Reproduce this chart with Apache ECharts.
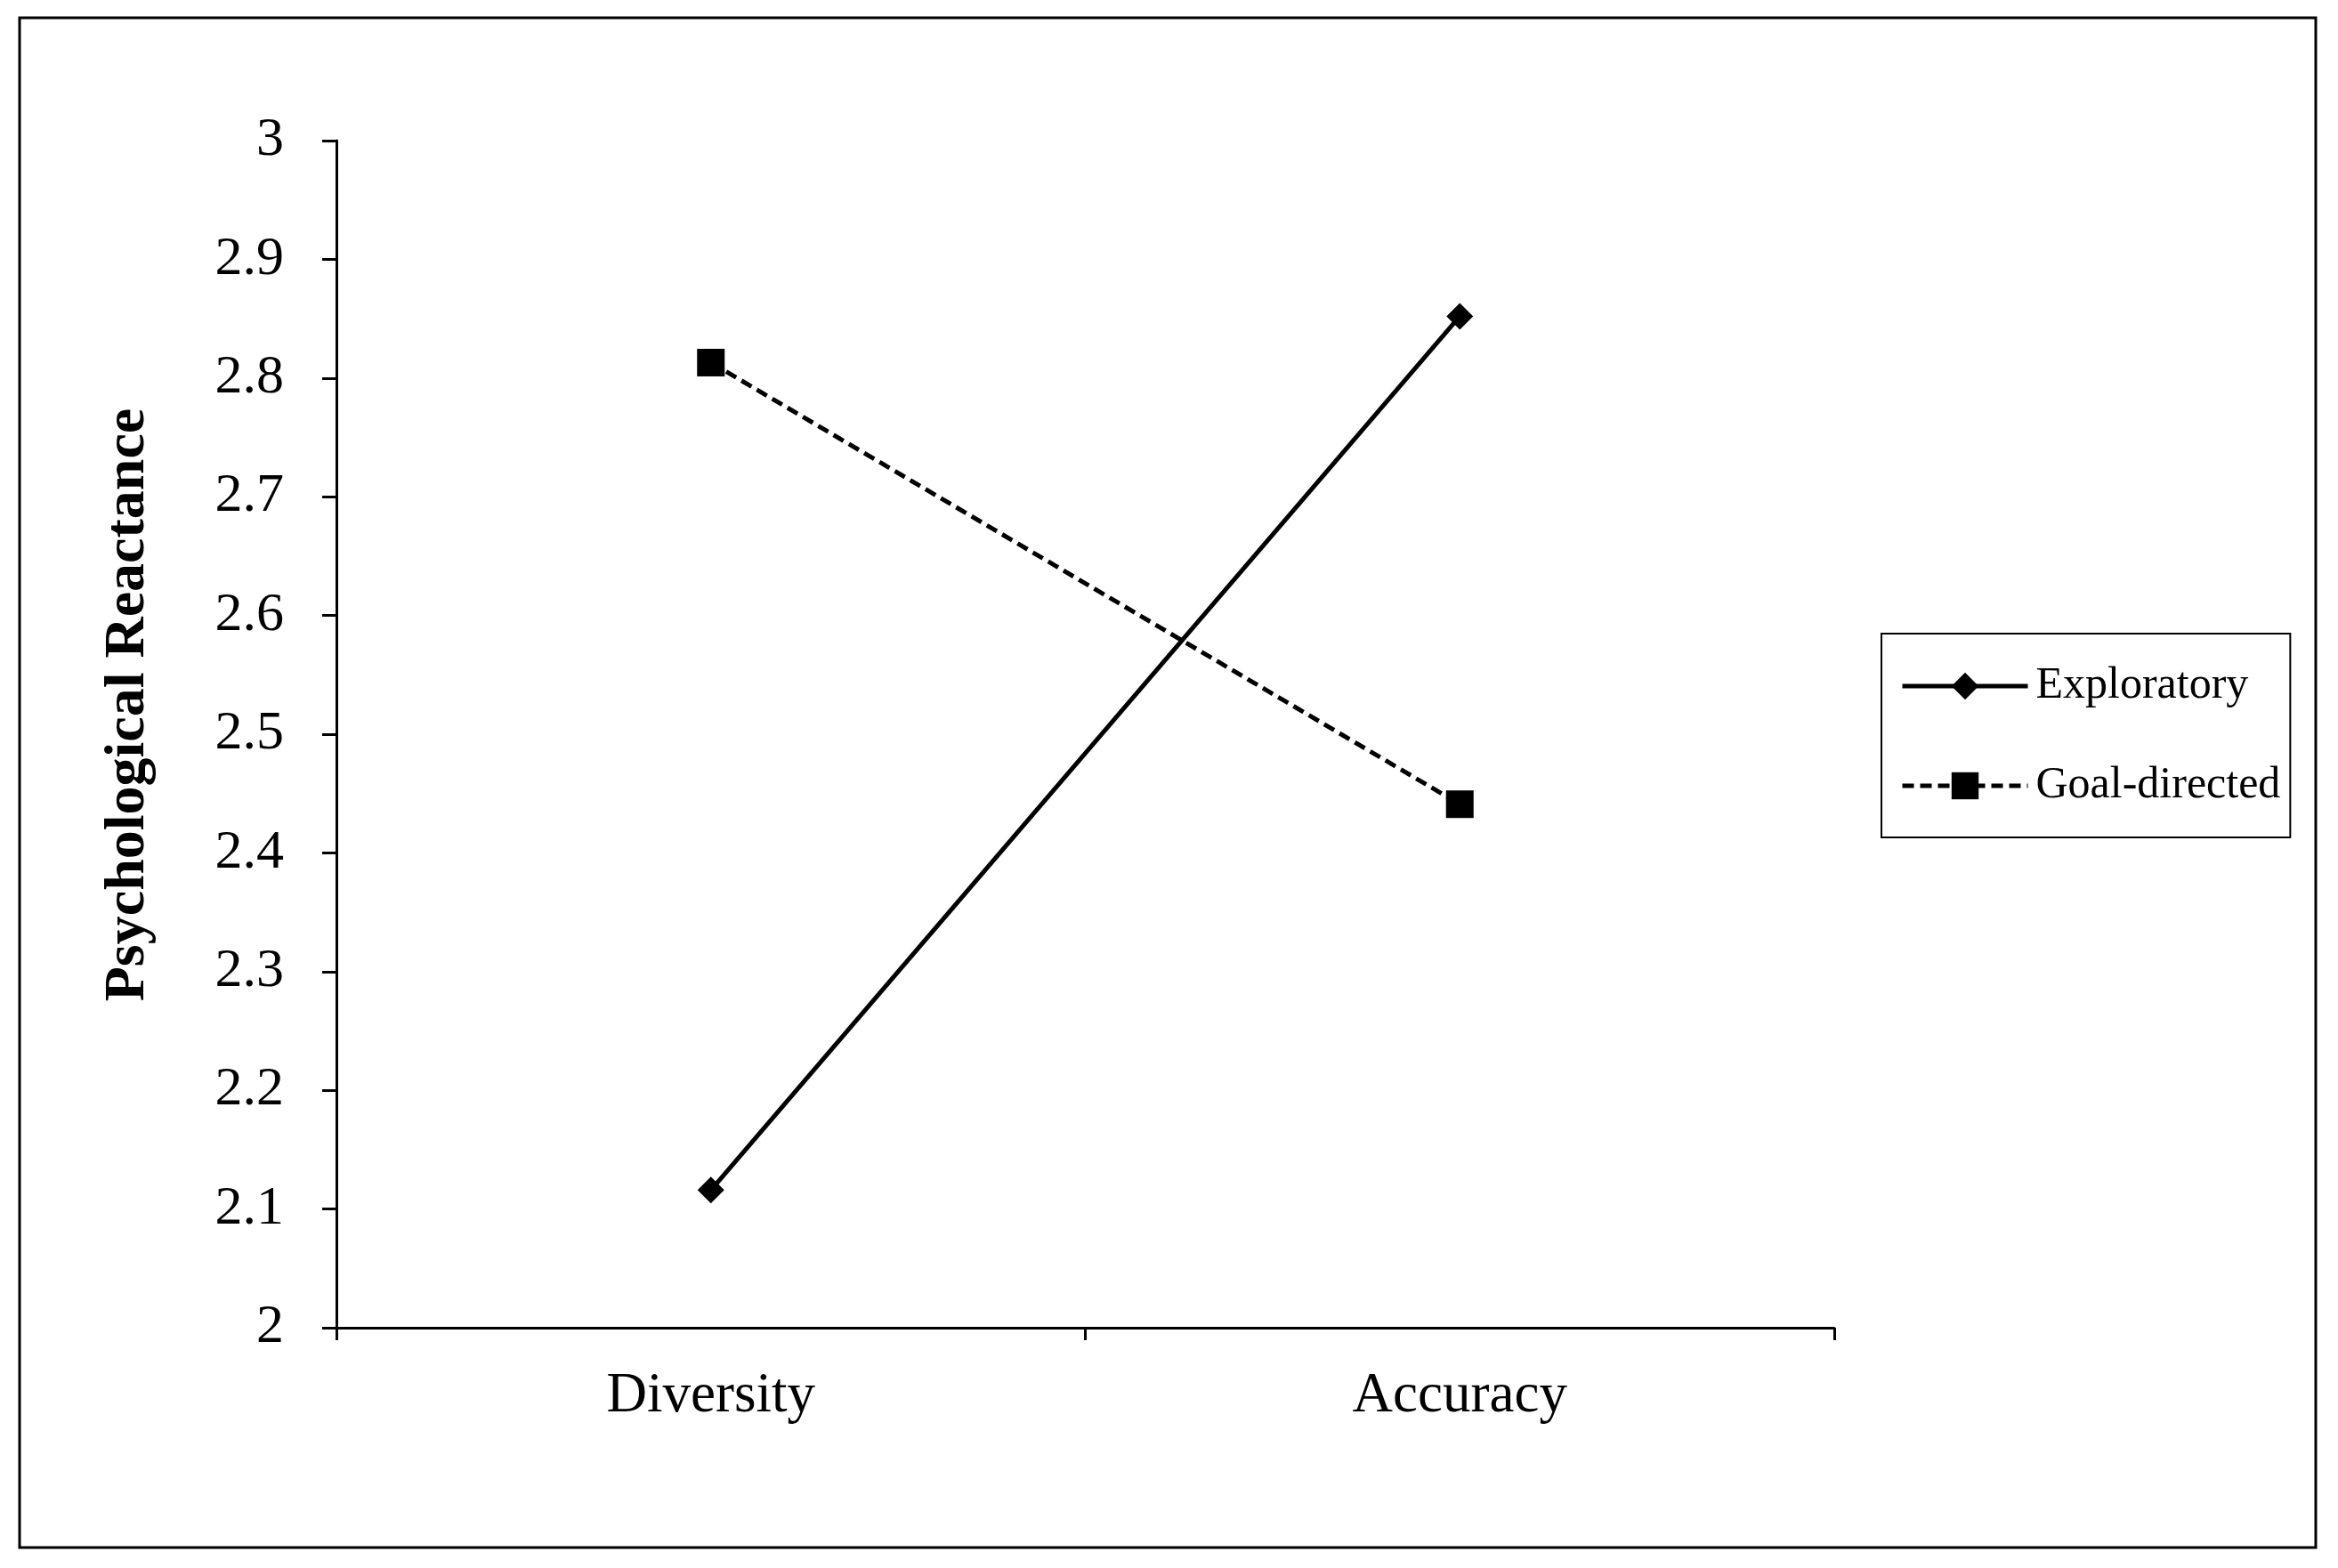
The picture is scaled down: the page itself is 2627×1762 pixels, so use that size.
<!DOCTYPE html>
<html>
<head>
<meta charset="utf-8">
<title>Psychological Reactance</title>
<script src="https://cdn.jsdelivr.net/npm/echarts@6/dist/echarts.min.js"></script>
<style>
  html, body { margin: 0; padding: 0; background: #fff; }
  #chart { width: 2627px; height: 1762px; }
</style>
</head>
<body>
<div id="chart"></div>
<script>
// data
var categories = ['Diversity', 'Accuracy']
var exploratory = [2.116, 2.852]
var goalDirected = [2.813, 2.441]
var seriesNames = ['Exploratory', 'Goal-directed']
var yTitle = 'Psychological Reactance'

var serif = '"Liberation Serif", "Times New Roman", serif'

var chart = echarts.init(document.getElementById('chart'))

var option = {
  animation: false,
  backgroundColor: '#fff',
  textStyle: { fontFamily: serif, color: '#000' },
  graphic: [{
    type: 'rect',
    shape: { x: 22, y: 20, width: 2580, height: 1719 },
    style: { fill: 'none', stroke: '#000', lineWidth: 3 },
    silent: true
  }],
  grid: {
    left: 378,
    right: 566,
    top: 158,
    bottom: 270
  },
  legend: {
    orient: 'vertical',
    left: 2114,
    top: 712,
    data: seriesNames,
    itemWidth: 141,
    itemHeight: 38,
    itemGap: 62,
    padding: [34, 11, 33, 21],
    borderColor: '#000',
    borderWidth: 2,
    lineStyle: { width: 5 },
    textStyle: { fontFamily: serif, fontSize: 50, color: '#000', padding: [0, 0, 0, 4] }
  },
  xAxis: {
    type: 'category',
    data: categories,
    boundaryGap: true,
    axisLine: { lineStyle: { color: '#000', width: 3 } },
    axisTick: { show: true, length: 14, lineStyle: { color: '#000', width: 3 } },
    axisLabel: { fontFamily: serif, fontSize: 63, color: '#000', margin: 46 },
    splitLine: { show: false }
  },
  yAxis: {
    type: 'value',
    min: 2,
    max: 3,
    interval: 0.1,
    name: yTitle,
    nameLocation: 'middle',
    nameRotate: 90,
    nameGap: 202,
    nameTextStyle: {
      fontFamily: serif,
      fontSize: 64,
      fontWeight: 'bold',
      color: '#000',
      padding: [0, 0, 0, 66]
    },
    axisLine: { show: true, lineStyle: { color: '#000', width: 3 } },
    axisTick: { show: true, length: 16, lineStyle: { color: '#000', width: 3 } },
    axisLabel: { fontFamily: serif, fontSize: 62, color: '#000', margin: 59 },
    splitLine: { show: false }
  },
  series: [{
    name: seriesNames[0],
    type: 'line',
    data: exploratory,
    symbol: 'diamond',
    symbolSize: 30,
    lineStyle: { color: '#000', width: 5, type: 'solid' },
    itemStyle: { color: '#000' }
  }, {
    name: seriesNames[1],
    type: 'line',
    data: goalDirected,
    symbol: 'rect',
    symbolSize: 31,
    lineStyle: { color: '#000', width: 5, type: [13, 7] },
    itemStyle: { color: '#000' }
  }]
}

chart.setOption(option)
</script>
</body>
</html>
